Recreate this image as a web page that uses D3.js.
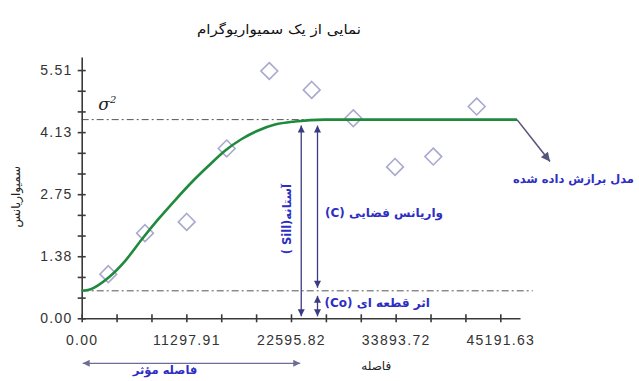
<head>
    <meta charset="utf-8" />
    <script src="https://d3js.org/d3.v7.min.js"></script>
</head>
<style>
    body { margin: 0; background: #fff; }
    svg { display: block; }
    .fa { font-family: "DejaVu Sans", sans-serif; }
    .num { font-family: "Liberation Sans", Arial, sans-serif; font-size: 14px; letter-spacing: 1.3px; fill: #333; }
</style>
<body>
</body>
<script>
// experimental semivariance (diamonds)
var lagDist = [2872, 6834, 11335, 15654, 20253, 24830, 29321, 33823, 37958, 42643];
var lagGamma = [0.98, 1.89, 2.14, 3.77, 5.49, 5.07, 4.44, 3.36, 3.59, 4.70];

// fitted model, points
var modelDist = [0, 896, 2872, 4675, 6478, 8270, 10073, 11875, 13668, 15470, 17273, 19065, 20868, 23027, 26266, 46994];
var modelGamma = [0.61, 0.64, 0.90, 1.27, 1.75, 2.20, 2.62, 3.02, 3.38, 3.72, 3.98, 4.17, 4.30, 4.37, 4.41, 4.41];

var sill = 4.41;
var nugget = 0.61;
var rangeDist = 23700;
var cDist = 25456;

var xTickStep = 3765.97;
var xTickLabels = ["0.00", "11297.91", "22595.82", "33893.72", "45191.63"];
var yTickStep = 5.51 / 12;
var yTickLabels = ["0.00", "1.38", "2.75", "4.13", "5.51"];

var title = "نمایی از یک سمیواریوگرام";
var yTitle = "سمیواریانس";
var xTitle = "فاصله";

var W = 639, H = 381;
var svg = d3.select("body").append("svg").attr("width", W).attr("height", H);

var x = d3.scaleLinear().domain([0, 47318]).range([81.7, 520]);
var y = d3.scaleLinear().domain([0, 5.80]).range([318.3, 57]);

var defs = svg.append("defs");
function marker(id, col, w, h) {
    defs.append("marker")
        .attr("id", id)
        .attr("viewBox", "0 0 10 10")
        .attr("refX", 10).attr("refY", 5)
        .attr("markerUnits", "userSpaceOnUse")
        .attr("markerWidth", w).attr("markerHeight", h)
        .attr("orient", "auto-start-reverse")
        .append("path").attr("d", "M0,0 L10,5 L0,10 z").attr("fill", col);
}
marker("arNavy", "#3b3b85", 9, 7);
marker("arGray", "#6c6c96", 9, 7);
marker("arSlate", "#55557a", 11, 9);

// title
svg.append("text").attr("class", "fa")
    .attr("x", 197).attr("y", 34)
    .attr("textLength", 164).attr("lengthAdjust", "spacingAndGlyphs")
    .style("font-size", "13.5px").attr("fill", "#111")
    .text(title);

// dash-dot reference lines
var dashDot = "7,3,2,3";
svg.append("line")
    .attr("x1", x(0)).attr("x2", x(46994))
    .attr("y1", y(sill)).attr("y2", y(sill))
    .attr("stroke", "#555").attr("stroke-width", 1).attr("stroke-dasharray", dashDot);
svg.append("line")
    .attr("x1", x(0)).attr("x2", x(48700))
    .attr("y1", y(nugget)).attr("y2", y(nugget))
    .attr("stroke", "#555").attr("stroke-width", 1).attr("stroke-dasharray", dashDot);

// axes
var xTicks = d3.range(0, 13).map(function (i) { return i * xTickStep; });
var yTicks = d3.range(0, 13).map(function (i) { return i * yTickStep; });

var gx = svg.append("g")
    .attr("transform", "translate(0," + y(0) + ")")
    .call(d3.axisBottom(x).tickValues(xTicks).tickSize(4).tickSizeOuter(0)
        .tickFormat(function (d, i) { return i % 3 == 0 ? xTickLabels[i / 3] : ""; }));
gx.selectAll("line").attr("y1", -4);
gx.selectAll("text").attr("class", "num").attr("y", 17).attr("dy", "0.71em");

var gy = svg.append("g")
    .attr("transform", "translate(" + x(0) + ",0)")
    .call(d3.axisLeft(y).tickValues(yTicks).tickSize(4).tickSizeOuter(0)
        .tickFormat(function (d, i) { return i % 3 == 0 ? yTickLabels[i / 3] : ""; }));
gy.selectAll("line").attr("x1", 4);
gy.selectAll("text").attr("class", "num").attr("x", -9);

svg.selectAll(".domain, .tick line").attr("stroke", "#3a3a3a").attr("stroke-width", 1.6);

// σ²
svg.append("text")
    .attr("x", x(1800)).attr("y", y(sill) - 10)
    .style("font-family", "'DejaVu Serif', serif").style("font-style", "italic")
    .style("font-size", "17px").attr("fill", "#222")
    .text("σ")
    .append("tspan").attr("dy", -7).style("font-size", "10px").text("2");

// axis titles
svg.append("text").attr("class", "fa")
    .attr("transform", "translate(20," + y(2.7) + ") rotate(-90)")
    .attr("text-anchor", "middle")
    .style("font-size", "12px").attr("fill", "#222")
    .text(yTitle);
svg.append("text").attr("class", "fa")
    .attr("x", x(31800)).attr("y", y(0) + 52)
    .attr("text-anchor", "middle")
    .style("font-size", "12px").attr("fill", "#222")
    .text(xTitle);

// experimental points
var pts = lagDist.map(function (d, i) { return [d, lagGamma[i]]; });
svg.selectAll(".pt").data(pts).enter().append("path")
    .attr("class", "pt")
    .attr("d", d3.symbol(d3.symbolDiamond2, 180))
    .attr("transform", function (d) { return "translate(" + x(d[0]) + "," + y(d[1]) + ")"; })
    .attr("fill", "none").attr("stroke", "#a9a9cf").attr("stroke-width", 1.6);

// fitted model
var model = modelDist.map(function (d, i) { return [d, modelGamma[i]]; });
svg.append("path").datum(model)
    .attr("d", d3.line().x(function (d) { return x(d[0]); }).y(function (d) { return y(d[1]); })
        .curve(d3.curveMonotoneX))
    .attr("fill", "none").attr("stroke", "#1f8a3c").attr("stroke-width", 2.6);

// vertical arrows
function vArrow(d, v0, v1, pad0, pad1) {
    svg.append("line")
        .attr("x1", x(d)).attr("x2", x(d))
        .attr("y1", y(v0) - pad0).attr("y2", y(v1) + pad1)
        .attr("stroke", "#3b3b85").attr("stroke-width", 1.3)
        .attr("marker-start", "url(#arNavy)").attr("marker-end", "url(#arNavy)");
}
vArrow(rangeDist, 0, sill, 2, 6);
vArrow(cDist, nugget, sill, 3, 6);
vArrow(cDist, 0, nugget, 2, 5);

// model arrow
svg.append("line")
    .attr("x1", x(46994)).attr("y1", y(sill))
    .attr("x2", x(50556)).attr("y2", y(3.48))
    .attr("stroke", "#55557a").attr("stroke-width", 1.6)
    .attr("marker-end", "url(#arSlate)");

// range arrow under the axis
svg.append("line")
    .attr("x1", x(0) + 1).attr("x2", x(rangeDist) - 1)
    .attr("y1", y(0) + 45).attr("y2", y(0) + 45)
    .attr("stroke", "#6c6c96").attr("stroke-width", 1.2)
    .attr("marker-start", "url(#arGray)").attr("marker-end", "url(#arGray)");

// blue annotations
var blue = "#2e2ec4";
svg.append("text").attr("class", "fa")
    .attr("transform", "translate(" + (x(rangeDist) - 10) + "," + y(2.2) + ") rotate(-90)")
    .attr("text-anchor", "middle").attr("direction", "rtl")
    .style("font-size", "11.5px").style("font-weight", "bold").attr("fill", blue)
    .text("آستانه(Sill )");
svg.append("text").attr("class", "fa")
    .attr("x", x(32636)).attr("y", y(2.25))
    .attr("text-anchor", "middle").attr("direction", "rtl")
    .style("font-size", "12px").style("font-weight", "bold").attr("fill", blue)
    .text("واریانس فضایی (C)");
svg.append("text").attr("class", "fa")
    .attr("x", x(31900)).attr("y", y(0.26))
    .attr("text-anchor", "middle").attr("direction", "rtl")
    .style("font-size", "12px").style("font-weight", "bold").attr("fill", blue)
    .text("اثر قطعه ای (Co)");
svg.append("text").attr("class", "fa")
    .attr("x", 634).attr("y", y(3.0))
    .attr("text-anchor", "end")
    .style("font-size", "11.5px").style("font-weight", "bold").attr("fill", blue)
    .text("مدل برازش داده شده");
svg.append("text").attr("class", "fa")
    .attr("x", x(9000)).attr("y", y(0) + 56)
    .attr("text-anchor", "middle")
    .style("font-size", "11.5px").style("font-weight", "bold").attr("fill", blue)
    .text("فاصله مؤثر");
</script>
